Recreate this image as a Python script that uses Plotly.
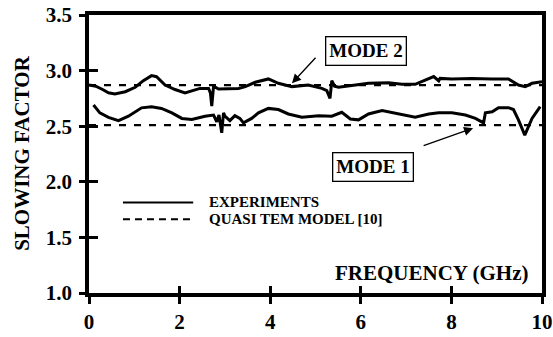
import plotly.graph_objects as go

# ---- data ----
mode2_freq = [0.0, 0.15, 0.3, 0.43, 0.57, 0.8, 1.02, 1.2, 1.38, 1.49, 1.68, 1.9, 2.12, 2.27, 2.45,
              2.64, 2.68, 2.71, 2.73, 2.75, 2.86, 3.05, 3.3, 3.45, 3.67, 3.96, 4.18, 4.48, 4.84,
              5.14, 5.25, 5.32, 5.36, 5.42, 5.51, 5.8, 6.17, 6.61, 6.91, 7.2, 7.42, 7.61, 7.72,
              7.75, 8.01, 8.45, 8.9, 9.26, 9.48, 9.63, 9.78, 10.0]
mode2_exp = [2.87, 2.86, 2.83, 2.80, 2.79, 2.81, 2.85, 2.91, 2.955, 2.945, 2.87, 2.83, 2.80, 2.82, 2.84,
             2.84, 2.80, 2.68, 2.78, 2.86, 2.835, 2.84, 2.84, 2.856, 2.895, 2.925, 2.886, 2.856, 2.87,
             2.84, 2.82, 2.75, 2.91, 2.86, 2.85, 2.865, 2.886, 2.89, 2.877, 2.877, 2.916, 2.946, 2.907,
             2.93, 2.925, 2.93, 2.925, 2.925, 2.87, 2.856, 2.886, 2.90]

mode1_freq = [0.1, 0.24, 0.43, 0.65, 0.87, 1.02, 1.16, 1.38, 1.6, 1.83, 2.05, 2.27, 2.56, 2.75, 2.82,
              2.87, 2.93, 2.97, 3.0, 3.11, 3.22, 3.33, 3.41, 3.59, 3.74, 3.96, 4.18, 4.4, 4.7, 5.07,
              5.36, 5.58, 5.77, 5.95, 6.17, 6.47, 6.83, 7.2, 7.5, 7.72, 8.01, 8.31, 8.53, 8.71, 8.75,
              8.9, 9.04, 9.26, 9.37, 9.48, 9.62, 9.78, 9.96]
mode1_exp = [2.69, 2.62, 2.58, 2.55, 2.59, 2.625, 2.665, 2.675, 2.66, 2.62, 2.57, 2.56, 2.59, 2.60, 2.54,
             2.60, 2.44, 2.62, 2.59, 2.55, 2.595, 2.57, 2.53, 2.57, 2.62, 2.66, 2.65, 2.61, 2.58, 2.595,
             2.59, 2.625, 2.565, 2.557, 2.61, 2.64, 2.61, 2.58, 2.61, 2.62, 2.62, 2.60, 2.57, 2.53, 2.62,
             2.63, 2.667, 2.667, 2.65, 2.557, 2.42, 2.57, 2.676]

model_freq = [0.0, 10.0]
mode2_model = [2.87, 2.87]
mode1_model = [2.51, 2.51]

x_ticks = [0, 2, 4, 6, 8, 10]
y_ticks = [1.0, 1.5, 2.0, 2.5, 3.0, 3.5]

FONT = "Liberation Serif"
BLACK = "#000000"

fig = go.Figure()
fig.add_trace(go.Scatter(x=mode2_freq, y=mode2_exp, mode="lines",
                         line=dict(color=BLACK, width=3), showlegend=False))
fig.add_trace(go.Scatter(x=mode1_freq, y=mode1_exp, mode="lines",
                         line=dict(color=BLACK, width=3), showlegend=False))
fig.add_trace(go.Scatter(x=model_freq, y=mode2_model, mode="lines", xaxis="x2", yaxis="y2",
                         line=dict(color=BLACK, width=2.2, dash="7px,8px"), showlegend=False))
fig.add_trace(go.Scatter(x=model_freq, y=mode1_model, mode="lines", xaxis="x2", yaxis="y2",
                         line=dict(color=BLACK, width=2.2, dash="7px,8px"), showlegend=False))

tickfont = dict(family=FONT, size=21, color=BLACK, weight="bold")

fig.update_layout(
    width=553, height=337,
    margin=dict(l=89, r=11, t=15, b=44),
    paper_bgcolor="white", plot_bgcolor="white",
    showlegend=False,
    xaxis=dict(range=[0, 10], tickvals=x_ticks, ticktext=[str(v) for v in x_ticks],
               ticks="outside", ticklen=7, tickwidth=3, tickcolor=BLACK,
               showline=True, linewidth=3.5, linecolor=BLACK, mirror=True,
               showgrid=False, zeroline=False, tickfont=tickfont, automargin=False),
    yaxis=dict(range=[1, 3.5], tickvals=y_ticks, ticktext=[f"{v:.1f}" for v in y_ticks],
               ticks="outside", ticklen=6, tickwidth=3, tickcolor=BLACK,
               showline=True, linewidth=3.5, linecolor=BLACK, mirror=True,
               showgrid=False, zeroline=False, tickfont=tickfont, automargin=False,
               ticklabelstandoff=3),
    xaxis2=dict(range=[0, 10], overlaying="x", anchor="y2", tickvals=x_ticks,
                ticks="inside", ticklen=7, tickwidth=3, tickcolor=BLACK,
                showticklabels=False, showline=False, showgrid=False, zeroline=False),
    yaxis2=dict(range=[1, 3.5], overlaying="y", anchor="x2", tickvals=y_ticks,
                ticks="inside", ticklen=9, tickwidth=3, tickcolor=BLACK,
                showticklabels=False, showline=False, showgrid=False, zeroline=False),
)

# legend drawn inside the plot
fig.add_shape(type="line", xref="x", yref="y", x0=0.75, x1=2.3, y0=1.814, y1=1.814,
              line=dict(color=BLACK, width=2))
fig.add_shape(type="line", xref="x", yref="y", x0=0.75, x1=2.3, y0=1.664, y1=1.664,
              line=dict(color=BLACK, width=2, dash="7px,5px"))
legfont = dict(family=FONT, size=15, color=BLACK, weight="bold")
fig.add_annotation(x=2.6, y=1.814, xref="x", yref="y", text="EXPERIMENTS",
                   showarrow=False, xanchor="left", yanchor="middle", font=legfont)
fig.add_annotation(x=2.6, y=1.664, xref="x", yref="y", text="QUASI TEM MODEL [10]",
                   showarrow=False, xanchor="left", yanchor="middle", font=legfont)

# axis titles
fig.add_annotation(x=7.55, y=1.18, xref="x", yref="y", text="FREQUENCY (GHz)",
                   showarrow=False, xanchor="center", yanchor="middle",
                   font=dict(family=FONT, size=21, color=BLACK, weight="bold"))
fig.add_annotation(x=-0.148, y=0.504, xref="paper", yref="paper", text="SLOWING FACTOR",
                   textangle=-90, showarrow=False, xanchor="center", yanchor="middle",
                   font=dict(family=FONT, size=21, color=BLACK, weight="bold"))

# mode labels with arrows
boxfont = dict(family=FONT, size=19, color=BLACK, weight="bold")
fig.add_annotation(x=4.48, y=2.886, xref="x", yref="y", text="", showarrow=True,
                   ax=25, ay=-27, arrowhead=2, arrowsize=1.4, arrowwidth=1.3, arrowcolor=BLACK)
fig.add_annotation(x=6.11, y=3.18, xref="x", yref="y", text="MODE 2", showarrow=False,
                   xanchor="center", yanchor="middle", bordercolor=BLACK, borderwidth=1.3,
                   bgcolor="white", borderpad=3, font=boxfont)
fig.add_annotation(x=8.48, y=2.482, xref="x", yref="y", text="", showarrow=True,
                   ax=-51, ay=18, arrowhead=2, arrowsize=1.4, arrowwidth=1.3, arrowcolor=BLACK)
fig.add_annotation(x=6.28, y=2.13, xref="x", yref="y", text="MODE 1", showarrow=False,
                   xanchor="center", yanchor="middle", bordercolor=BLACK, borderwidth=1.3,
                   bgcolor="white", borderpad=3, font=boxfont)

fig.write_html("out.html", config={"displayModeBar": False},
               post_script="document.body.style.margin='0';")
